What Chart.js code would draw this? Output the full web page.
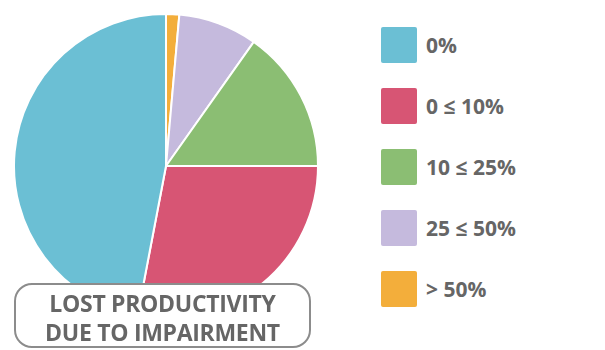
<!DOCTYPE html>
<html lang="en">
<head>
  <meta charset="UTF-8">
  <title>Lost productivity due to impairment</title>
  <script src="https://cdn.jsdelivr.net/npm/chart.js"></script>
  <style>
    body {
      margin: 0;
      background: #fff;
      width: 605px;
      height: 350px;
      position: relative;
      overflow: hidden;
      font-family: "Open Sans", Lato, sans-serif;
    }

    #pieWrap {
      position: absolute;
      left: 13px;
      top: 13px;
      width: 306px;
      height: 306px;
    }

    #legend {
      position: absolute;
      left: 381px;
      top: 27px;
    }

    .legend-item {
      display: flex;
      align-items: center;
      height: 36px;
      margin-bottom: 25px;
    }

    .legend-box {
      width: 36px;
      height: 36px;
      border-radius: 2px;
      margin-right: 9px;
    }

    .legend-text {
      color: #666;
      font-weight: bold;
      font-size: 21px;
    }

    #caption {
      position: absolute;
      box-sizing: border-box;
      left: 14px;
      top: 283px;
      width: 297px;
      height: 65px;
      border: 2px solid #8c8c8c;
      border-radius: 18px;
      background: #fff;
      color: #666;
      font-weight: bold;
      font-size: 23px;
      letter-spacing: -0.3px;
      line-height: 29px;
      text-align: center;
      padding-top: 4px;
    }
  </style>
</head>
<body>

<div id="pieWrap"><canvas id="pieChart"></canvas></div>
<div id="legend"></div>
<div id="caption">LOST PRODUCTIVITY<br>DUE TO IMPAIRMENT</div>

<script>
  // Категории (порядок легенды) и доли в процентах
  const categories = ['0%', '0 ≤ 10%', '10 ≤ 25%', '25 ≤ 50%', '> 50%'];
  const shares = [47.0, 28.0, 15.2, 8.4, 1.4];
  const colors = ['#6bbfd4', '#d75574', '#8bbe73', '#c5badd', '#f3ae3b'];

  // Легенда
  const legend = document.getElementById('legend');
  categories.forEach(function (cat, i) {
    const item = document.createElement('div');
    item.className = 'legend-item';
    item.innerHTML = '<div class="legend-box" style="background:' + colors[i] + '"></div>' +
      '<span class="legend-text">' + cat + '</span>';
    legend.appendChild(item);
  });

  // Круг рисуется по часовой стрелке от верха, в обратном порядке
  const pieLabels = categories.slice().reverse();
  const pieData = shares.slice().reverse();
  const pieColors = colors.slice().reverse();

  new Chart(document.getElementById('pieChart').getContext('2d'), {
    type: 'pie',
    data: {
      labels: pieLabels,
      datasets: [{
        data: pieData,
        backgroundColor: pieColors,
        borderColor: '#fff',
        borderWidth: 2
      }]
    },
    options: {
      responsive: true,
      maintainAspectRatio: false,
      animation: false,
      layout: { padding: 0 },
      plugins: {
        legend: { display: false },
        tooltip: { enabled: false }
      }
    }
  });
</script>

</body>
</html>
